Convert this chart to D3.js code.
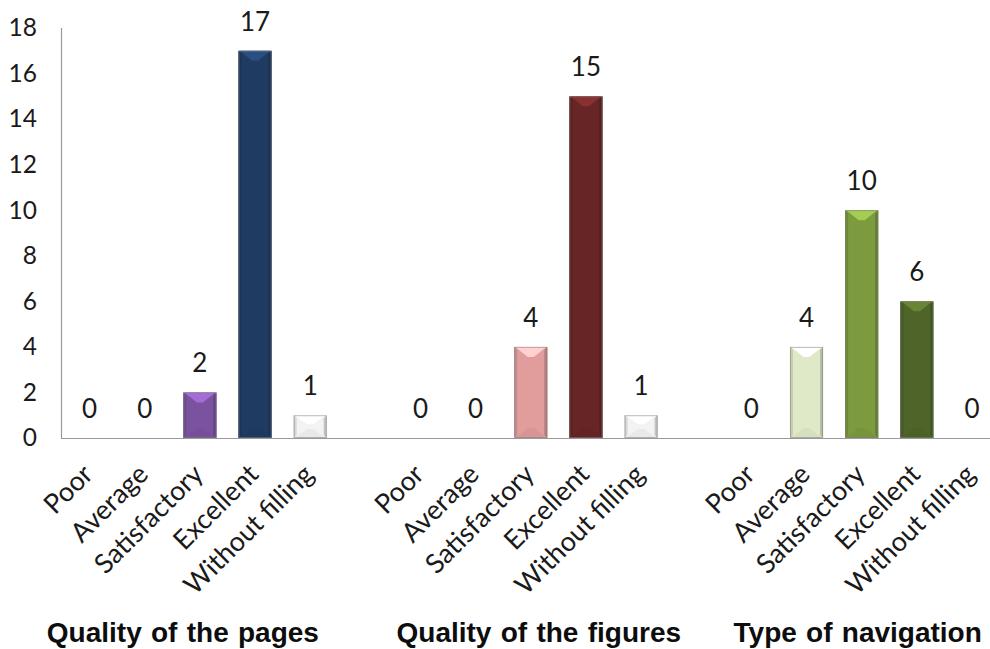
<!DOCTYPE html>
<html>
<head>
<meta charset="utf-8">
<script src="https://cdn.jsdelivr.net/npm/d3@7"></script>
<style>
  html, body { margin: 0; padding: 0; background: #ffffff; }
  svg { display: block; }
</style>
</head>
<body>
<svg id="chart" width="990" height="649"></svg>
<script>
// Survey answers per question group
const groups = ["Quality of the pages", "Quality of the figures", "Type of navigation"];
const categories = ["Poor", "Average", "Satisfactory", "Excellent", "Without filling"];
const pagesValues = [0, 0, 2, 17, 1];
const figuresValues = [0, 0, 4, 15, 1];
const navigationValues = [0, 4, 10, 6, 0];
const yTicks = [0, 2, 4, 6, 8, 10, 12, 14, 16, 18];

// Bar fills per group, one per category
const groupColors = [
  ["#7b52a0", "#7b52a0", "#7b52a0", "#1f3b62", "#f3f3f3"],
  ["#e09d9c", "#e09d9c", "#e09d9c", "#672525", "#f3f3f3"],
  ["#dfe9c8", "#dfe9c8", "#7b9b3e", "#4e6429", "#f3f3f3"]
];
const groupValues = [pagesValues, figuresValues, navigationValues];

// One slot per category plus an empty slot between groups
const slotsPerGroup = categories.length + 1;
const rows = [];
groups.forEach((g, gi) => {
  categories.forEach((c, ci) => {
    rows.push({
      group: g, gi, category: c, ci,
      slot: gi * slotsPerGroup + ci,
      value: groupValues[gi][ci],
      color: groupColors[gi][ci]
    });
  });
});
const slotCount = groups.length * slotsPerGroup - 1;

const svg = d3.select("#chart");
const plot = { left: 61, top: 28, bottom: 438, right: 990 };
const labelFont = "Lato, 'Open Sans', sans-serif";

const x = d3.scaleBand()
  .domain(d3.range(slotCount))
  .range([62, 62 + 55.15 * slotCount]);
const step = x.step();
const barW = step * 0.6;
const cx = d => x(d.slot) + step / 2;

const y = d3.scaleLinear().domain([0, 18]).range([plot.bottom, plot.top]);

// Y axis labels (no tick marks), and axis lines
const yAxis = d3.axisLeft(y).tickValues(yTicks).tickSize(0).tickPadding(24);
const yg = svg.append("g")
  .attr("transform", `translate(${plot.left},0)`)
  .call(yAxis);
yg.select(".domain").remove();
yg.selectAll("text")
  .attr("font-family", labelFont)
  .attr("font-size", 24.5)
  .attr("fill", "#1a1a1a");

svg.append("line")
  .attr("x1", plot.left + 0.5).attr("x2", plot.left + 0.5)
  .attr("y1", plot.top).attr("y2", plot.bottom)
  .attr("stroke", "#9a9a9a").attr("stroke-width", 1.2);
svg.append("line")
  .attr("x1", plot.left).attr("x2", plot.right)
  .attr("y1", plot.bottom + 0.5).attr("y2", plot.bottom + 0.5)
  .attr("stroke", "#9a9a9a").attr("stroke-width", 1.2);

// Bevelled bars
const bars = svg.append("g").selectAll("g")
  .data(rows.filter(d => d.value > 0))
  .join("g");

bars.each(function (d) {
  const g = d3.select(this);
  const x0 = cx(d) - barW / 2;
  const y0 = y(d.value);
  const w = barW;
  const h = y(0) - y0;
  const s = 3;         // side facet width
  const b = Math.min(10, h / 2.5); // top/bottom facet depth
  const base = d3.color(d.color);

  g.append("rect")
    .attr("x", x0).attr("y", y0).attr("width", w).attr("height", h)
    .attr("fill", base.formatHex());
  // left and right facets
  g.append("polygon")
    .attr("points", [[x0, y0], [x0 + s, y0 + s], [x0 + s, y0 + h - s], [x0, y0 + h]].join(" "))
    .attr("fill", base.darker(0.35).formatHex());
  g.append("polygon")
    .attr("points", [[x0 + w, y0], [x0 + w - s, y0 + s], [x0 + w - s, y0 + h - s], [x0 + w, y0 + h]].join(" "))
    .attr("fill", base.darker(0.6).formatHex());
  // top facet (lighter)
  g.append("polygon")
    .attr("points", [[x0 + 1, y0], [x0 + w - 1, y0], [x0 + w / 2 + 3, y0 + b], [x0 + w / 2 - 3, y0 + b]].join(" "))
    .attr("fill", base.brighter(0.8).formatHex());
  // bottom facet (slightly darker)
  g.append("polygon")
    .attr("points", [[x0 + 1, y0 + h], [x0 + w - 1, y0 + h], [x0 + w / 2 + 3, y0 + h - b], [x0 + w / 2 - 3, y0 + h - b]].join(" "))
    .attr("fill", base.darker(0.12).formatHex());
  g.append("rect")
    .attr("x", x0 + 0.5).attr("y", y0 + 0.5).attr("width", w - 1).attr("height", h - 1)
    .attr("fill", "none")
    .attr("stroke", "#7f7f7f").attr("stroke-opacity", 0.55).attr("stroke-width", 1);
});

// Value labels
svg.append("g").selectAll("text")
  .data(rows)
  .join("text")
  .attr("x", d => cx(d))
  .attr("y", d => y(d.value) - 20)
  .attr("text-anchor", "middle")
  .attr("font-family", labelFont)
  .attr("font-size", 26)
  .attr("fill", "#1a1a1a")
  .text(d => d.value);

// Rotated category labels
svg.append("g").selectAll("text")
  .data(rows)
  .join("text")
  .attr("transform", d => `translate(${cx(d) + 5},${476}) rotate(-45)`)
  .attr("text-anchor", "end")
  .attr("font-family", labelFont)
  .attr("font-size", 27)
  .attr("fill", "#1a1a1a")
  .text(d => d.category);

// Group titles below each group
const titleShift = [-17, 8, -4];
svg.append("g").selectAll("text")
  .data(groups)
  .join("text")
  .attr("x", (g, gi) => x(gi * slotsPerGroup + 2) + step / 2 + titleShift[gi])
  .attr("y", 642)
  .attr("text-anchor", "middle")
  .attr("font-family", "'Liberation Sans', Arial, sans-serif")
  .attr("font-weight", "bold")
  .attr("font-size", 28)
  .attr("word-spacing", 1.5)
  .attr("fill", "#0d0d0d")
  .text(g => g);
</script>
</body>
</html>
